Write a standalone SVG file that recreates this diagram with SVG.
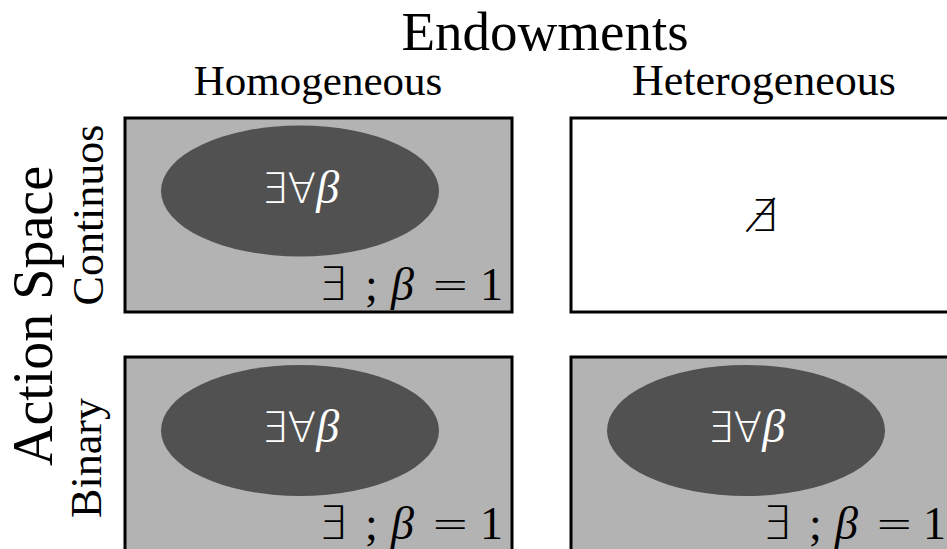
<svg xmlns="http://www.w3.org/2000/svg" width="947" height="549" viewBox="0 0 947 549">
<style>
.lbl{font-family:"Liberation Serif","DejaVu Serif",serif;fill:#000;text-anchor:middle}
.box{stroke:#000;stroke-width:3}
.gray{fill:#b3b3b3}
.white{fill:#fff}
.ell{fill:#515151}
.inner{font-family:"DejaVu Sans","Liberation Serif",serif;font-weight:200;font-size:42px;fill:#fff;text-anchor:middle}
.math{font-family:"Liberation Serif","DejaVu Sans",serif;font-size:46px;fill:#000}
.sym{font-family:"DejaVu Sans",serif;font-weight:200}
.it{font-family:"Liberation Serif",serif;font-style:italic;font-weight:normal}
</style>
<rect width="947" height="549" fill="#fff"/>
<g id="headers">
<text class="lbl" x="545" y="50" font-size="55">Endowments</text>
<text class="lbl" x="318" y="95" font-size="43">Homogeneous</text>
<text class="lbl" x="764" y="95" font-size="44">Heterogeneous</text>
<text class="lbl" font-size="56" transform="translate(52,316) rotate(-90)">Action Space</text>
<text class="lbl" font-size="44" transform="translate(103,215) rotate(-90)">Continuos</text>
<text class="lbl" font-size="44" transform="translate(101,458) rotate(-90)">Binary</text>
</g>
<g id="cell-continuous-homogeneous">
<rect class="box gray" x="125" y="118" width="387" height="194"/>
<ellipse class="ell" cx="300" cy="191" rx="139" ry="65.5"/>
<text class="inner" x="300" y="203">∃∀<tspan class="it" font-size="46">β</tspan></text>
<text class="math" y="300"><tspan class="sym" x="318">∃</tspan><tspan x="365">;</tspan><tspan class="it" x="391">β</tspan><tspan class="sym" x="431">=</tspan><tspan x="480">1</tspan></text>
</g>
<g id="cell-continuous-heterogeneous">
<rect class="box white" x="571" y="118" width="390" height="194"/>
<text class="sym" x="764" y="231" font-size="44" text-anchor="middle" fill="#000">∄</text>
</g>
<g id="cell-binary-homogeneous">
<rect class="box gray" x="125" y="357" width="387" height="200"/>
<ellipse class="ell" cx="300" cy="430.5" rx="139" ry="65.5"/>
<text class="inner" x="300" y="442">∃∀<tspan class="it" font-size="46">β</tspan></text>
<text class="math" y="539"><tspan class="sym" x="318">∃</tspan><tspan x="365">;</tspan><tspan class="it" x="391">β</tspan><tspan class="sym" x="431">=</tspan><tspan x="480">1</tspan></text>
</g>
<g id="cell-binary-heterogeneous">
<rect class="box gray" x="571" y="357" width="390" height="200"/>
<ellipse class="ell" cx="746" cy="430.5" rx="139" ry="65.5"/>
<text class="inner" x="746" y="442">∃∀<tspan class="it" font-size="46">β</tspan></text>
<text class="math" y="539"><tspan class="sym" x="762">∃</tspan><tspan x="809">;</tspan><tspan class="it" x="835">β</tspan><tspan class="sym" x="875">=</tspan><tspan x="923">1</tspan></text>
</g>
<g id="connectors"/>
</svg>
